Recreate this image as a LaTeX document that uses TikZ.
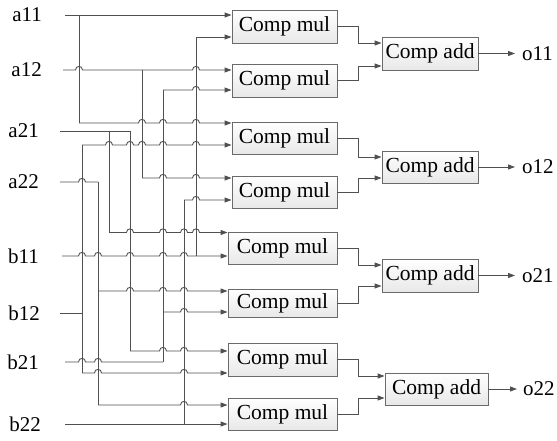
\documentclass[tikz,border=0pt]{standalone}
\usepackage{fontspec}
\setmainfont{Liberation Serif}
\usetikzlibrary{arrows.meta,shadings}
\definecolor{wirec}{HTML}{505050}
\definecolor{boxc}{HTML}{6A6A6A}
\tikzset{
  wire/.style={draw=wirec, line width=0.9pt},
  arr/.style={wire, -{Triangle[length=7pt,width=5pt]}},
  blk/.style={draw=boxc, line width=0.9pt, top color=white, bottom color=gray!18,
              inner sep=0pt, font=\fontsize{21.5}{25}\selectfont},
  lbl/.style={inner sep=0pt, font=\fontsize{21}{25}\selectfont},
}
% #1 style, #2 start, #3 y, #4 hop list, #5 end
\newcommand{\hopwire}[5][arr]{\draw[#1] (#2) \foreach \h in {#4}{ -- (\h-3.5,#3) .. controls (\h-3.5,#3-4.8) and (\h+3.5,#3-4.8) .. (\h+3.5,#3)} -- (#5);}

\begin{document}
\begin{tikzpicture}[x=1pt,y=-1pt]
\useasboundingbox (0,0) rectangle (557,441);

% multiplier blocks
\node[blk, minimum width=105pt, minimum height=33pt] (m1) at (284.5,26.5) {Comp mul};
\node[blk, minimum width=105pt, minimum height=33pt] (m2) at (284.5,80.5) {Comp mul};
\node[blk, minimum width=105pt, minimum height=32pt] (m3) at (284.5,138) {Comp mul};
\node[blk, minimum width=105pt, minimum height=32pt] (m4) at (284.5,192) {Comp mul};
\node[blk, minimum width=109pt, minimum height=32pt] (m5) at (282.5,248) {Comp mul};
\node[blk, minimum width=109pt, minimum height=28pt] (m6) at (282.5,303) {Comp mul};
\node[blk, minimum width=109pt, minimum height=33pt] (m7) at (282.5,359.5) {Comp mul};
\node[blk, minimum width=109pt, minimum height=32pt] (m8) at (282.5,414) {Comp mul};

% adder blocks
\node[blk, minimum width=96pt, minimum height=33pt] (ad1) at (430,53.5) {Comp add};
\node[blk, minimum width=96pt, minimum height=32pt] (ad2) at (430,167) {Comp add};
\node[blk, minimum width=96pt, minimum height=33pt] (ad3) at (430,275.5) {Comp add};
\node[blk, minimum width=103pt, minimum height=32pt] (ad4) at (436.5,389) {Comp add};

% input labels
\node[lbl, anchor=east] (a11) at (42,15) {a11};
\node[lbl, anchor=east] (a12) at (42,70) {a12};
\node[lbl, anchor=east] (a21) at (39,131) {a21};
\node[lbl, anchor=east] (a22) at (39,182) {a22};
\node[lbl, anchor=east] (b11) at (39,256) {b11};
\node[lbl, anchor=east] (b12) at (40,313) {b12};
\node[lbl, anchor=east] (b21) at (39,362) {b21};
\node[lbl, anchor=east] (b22) at (41,424) {b22};

% output labels
\node[lbl, anchor=west] (o11) at (522,53.5) {o11};
\node[lbl, anchor=west] (o12) at (522,167) {o12};
\node[lbl, anchor=west] (o21) at (522,275.5) {o21};
\node[lbl, anchor=west] (o22) at (523,389) {o22};

% wire start points
\coordinate (sa11) at (65,15);
\coordinate (sa12) at (63,70);
\coordinate (sa21) at (60,131);
\coordinate (sa22) at (60,182);
\coordinate (sb11) at (62,256);
\coordinate (sb12) at (60,313);
\coordinate (sb21) at (65,362);
\coordinate (sb22) at (65,424);

% vertical buses (top, bottom)
\coordinate (v1t) at (79,15);   \coordinate (v1b) at (79,123);
\coordinate (v2t) at (82,145);  \coordinate (v2j) at (82,313);  \coordinate (v2b) at (82,373);
\coordinate (v3t) at (98,182);  \coordinate (v3j) at (98,291);  \coordinate (v3b) at (98,405);
\coordinate (v4t) at (109,131); \coordinate (v4b) at (109,232.5);
\coordinate (v5t) at (130,131); \coordinate (v5b) at (130,351);
\coordinate (v6t) at (142,70);  \coordinate (v6b) at (142,178);
\coordinate (v7t) at (163,90);  \coordinate (v7j) at (163,312); \coordinate (v7b) at (163,362);
\coordinate (v8t) at (184,200); \coordinate (v8b) at (184,424);
\coordinate (v9t) at (196,37);  \coordinate (v9b) at (196,256);

\draw[wire] (v1t) -- (v1b);
\draw[wire] (v2t) -- (v2b);
\draw[wire] (v3t) -- (v3b);
\draw[wire] (v4t) -- (v4b);
\draw[wire] (v5t) -- (v5b);
\draw[wire] (v6t) -- (v6b);
\draw[wire] (v7t) -- (v7b);
\draw[wire] (v8t) -- (v8b);
\draw[wire] (v9t) -- (v9b);

% horizontal wires
\draw[arr] (sa11) -- (m1.west |- 0,15);
\draw[arr] (v9t) -- (m1.west |- 0,37);
\hopwire{sa12}{70}{79,196}{m2.west |- 0,70}
\hopwire{v7t}{90}{196}{m2.west |- 0,90}
\hopwire{v1b}{123}{142,163,196}{m3.west |- 0,123}
\draw[wire] (sa21) -- (v5t);
\hopwire{v2t}{145}{109,130,142,163,196}{m3.west |- 0,145}
\hopwire{v6b}{178}{163,196}{m4.west |- 0,178}
\hopwire[wire]{sa22}{182}{82}{v3t}
\hopwire{v8t}{200}{196}{m4.west |- 0,200}
\hopwire{v4b}{232.5}{130,163,184,196}{m5.west |- 0,232.5}
\hopwire{sb11}{256}{82,98,130,163,184}{m5.west |- 0,256}
\hopwire{v3j}{291}{130,163,184}{m6.west |- 0,291}
\draw[wire] (sb12) -- (v2j);
\hopwire{v7j}{312}{184}{m6.west |- 0,312}
\hopwire{v5b}{351}{163,184}{m7.west |- 0,351}
\hopwire[wire]{sb21}{362}{82,98}{v7b}
\hopwire{v2b}{373}{98,184}{m7.west |- 0,373}
\hopwire{v3b}{405}{184}{m8.west |- 0,405}
\draw[arr] (sb22) -- (m8.west |- 0,424);

% multiplier to adder
\draw[arr] (m1.east) -| (358,43) -- (ad1.west |- 0,43);
\draw[arr] (m2.east) -| (358,66) -- (ad1.west |- 0,66);
\draw[arr] (m3.east) -| (358,157) -- (ad2.west |- 0,157);
\draw[arr] (m4.east) -| (358,178) -- (ad2.west |- 0,178);
\draw[arr] (m5.east) -| (358,265) -- (ad3.west |- 0,265);
\draw[arr] (m6.east) -| (358,286) -- (ad3.west |- 0,286);
\draw[arr] (m7.east) -| (358,376) -- (ad4.west |- 0,376);
\draw[arr] (m8.east) -| (358,398) -- (ad4.west |- 0,398);

% outputs
\draw[arr, shorten >=7pt] (ad1) -- (o11);
\draw[arr, shorten >=7pt] (ad2) -- (o12);
\draw[arr, shorten >=7pt] (ad3) -- (o21);
\draw[arr, shorten >=6pt] (ad4) -- (o22);
\end{tikzpicture}
\end{document}
